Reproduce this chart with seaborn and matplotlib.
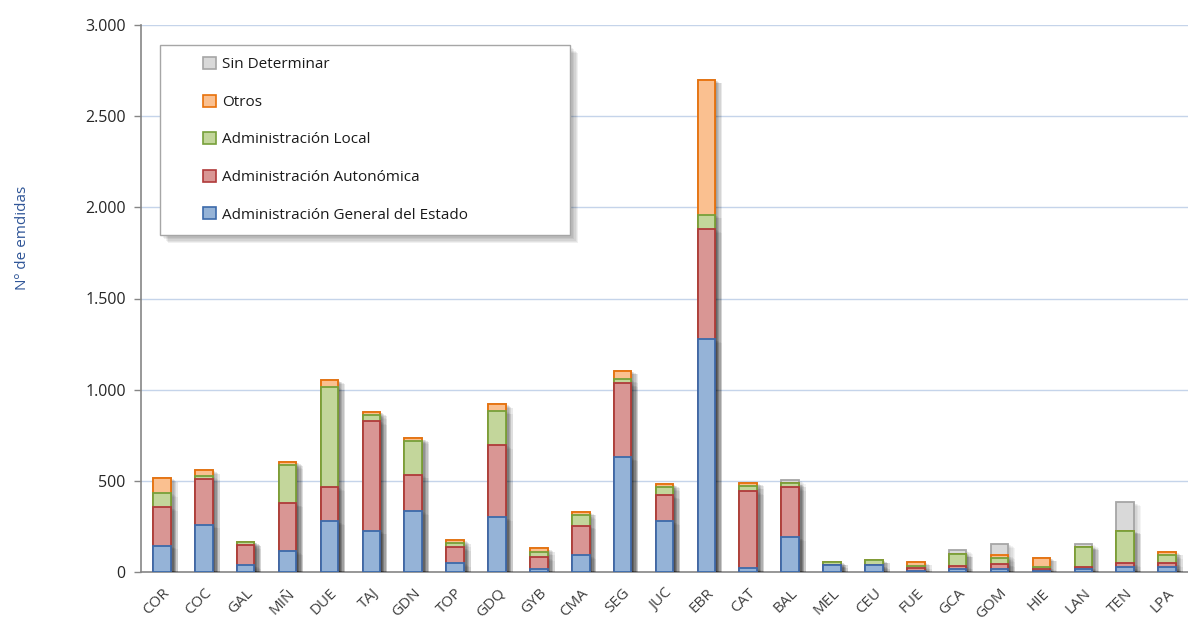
import numpy as np
import pandas as pd
import seaborn as sns
import matplotlib
matplotlib.use("Agg")
import matplotlib.pyplot as plt
from matplotlib.patches import Patch, Rectangle
import matplotlib.patheffects as pe
from matplotlib.ticker import FuncFormatter

categories = ["COR", "COC", "GAL", "MIÑ", "DUE", "TAJ", "GDN", "TOP", "GDQ", "GYB",
              "CMA", "SEG", "JUC", "EBR", "CAT", "BAL", "MEL", "CEU", "FUE", "GCA",
              "GOM", "HIE", "LAN", "TEN", "LPA"]
age   = [145, 258, 37, 115, 278, 225, 334, 49, 301, 15, 91, 628, 278, 1276, 24, 190, 40, 37, 7, 15, 15, 5, 16, 26, 26]
aa    = [210, 252, 109, 261, 188, 603, 198, 86, 395, 65, 163, 406, 142, 605, 420, 276, 0, 0, 15, 18, 31, 10, 10, 22, 22]
al    = [78, 16, 18, 209, 550, 32, 188, 22, 188, 31, 57, 22, 46, 77, 29, 20, 15, 29, 11, 67, 29, 11, 113, 179, 43]
otros = [82, 33, 0, 18, 36, 17, 14, 18, 37, 19, 18, 47, 16, 741, 17, 0, 0, 0, 22, 0, 16, 51, 0, 0, 19]
sd    = [0, 0, 0, 0, 0, 0, 0, 0, 0, 0, 0, 0, 0, 0, 0, 18, 0, 0, 0, 19, 62, 0, 14, 155, 0]

series_names = ["Administración General del Estado", "Administración Autonómica",
                "Administración Local", "Otros", "Sin Determinar"]
series_values = [age, aa, al, otros, sd]
fills = ["#95B3D7", "#D99694", "#C3D69B", "#FAC090", "#D9D9D9"]
edges = ["#3C6AAA", "#B03A3A", "#77A03A", "#E8710A", "#A6A6A6"]

sns.set_theme(style="white")
plt.rcParams["font.family"] = ["Open Sans", "DejaVu Sans"]

fig = plt.figure(figsize=(11.88, 6.25), dpi=100)
ax = fig.add_axes([141 / 1188, 1 - 572 / 625, 1 - 141 / 1188, (572 - 25) / 625])

df = pd.DataFrame({"cat": categories})
cum = np.cumsum(np.array(series_values, dtype=float), axis=0)
bar_shadow = [pe.SimplePatchShadow(offset=(k, -0.5 * k), shadow_rgbFace="#000000", alpha=0.045)
              for k in (1, 2, 3, 4, 5)] + [pe.Normal()]

for i in range(len(series_names) - 1, -1, -1):
    df["v"] = cum[i]
    sns.barplot(data=df, x="cat", y="v", order=categories, color=fills[i],
                edgecolor=edges[i], linewidth=1.3, width=0.42, saturation=1,
                ax=ax, zorder=3)

for p in ax.patches:
    p.set_path_effects(bar_shadow)

ax.set_xlim(-0.5, 24.28)
ax.set_ylim(0, 3000)
ax.set_yticks(np.arange(0, 3001, 500))
ax.yaxis.set_major_formatter(FuncFormatter(lambda v, _: f"{int(v):,}".replace(",", ".")))
ax.grid(axis="y", color="#C5D4EA", linewidth=1.0, zorder=0)
ax.set_axisbelow(True)

ax.set_xticks(range(len(categories)))
ax.set_xticklabels(categories, rotation=45, ha="right", rotation_mode="anchor")
ax.set_xticks(np.arange(-0.5, len(categories), 1), minor=True)
ax.tick_params(axis="x", which="major", length=0, pad=10, labelsize=11, labelcolor="#404040")
ax.tick_params(axis="x", which="minor", length=6, width=1, color="#868686", direction="out")
ax.tick_params(axis="y", which="major", length=5, width=1, color="#868686", direction="out",
               labelsize=11.5, labelcolor="#262626", pad=6, left=True)

for s in ["top", "right"]:
    ax.spines[s].set_visible(False)
for s in ["left", "bottom"]:
    ax.spines[s].set_color("#868686")
    ax.spines[s].set_linewidth(1.2)

ax.set_xlabel("")
ax.set_ylabel("Nº de emdidas", color="#2F5597", fontsize=11)
ax.yaxis.set_label_coords(-0.106, 0.61)

# legend box
box = Rectangle((160 / 1188, 1 - 235 / 625), 410 / 1188, 190 / 625, transform=fig.transFigure,
                facecolor="white", edgecolor="#A6A6A6", linewidth=1.0, zorder=5)
box.set_path_effects([pe.SimplePatchShadow(offset=(k, -k), shadow_rgbFace="#000000", alpha=0.06)
                      for k in (1, 2, 3, 4, 5, 6)] + [pe.Normal()])
fig.patches.append(box)

handles = [Patch(facecolor=fills[i], edgecolor=edges[i], linewidth=1.2, label=series_names[i])
           for i in range(len(series_names) - 1, -1, -1)]
leg = fig.legend(handles=handles, loc="upper left", bbox_to_anchor=(203 / 1188, 1 - 57 / 625),
                 frameon=False, fontsize=11, labelspacing=1.45, handlelength=0.85,
                 handleheight=0.85, handletextpad=0.4, borderpad=0, borderaxespad=0)
leg.set_zorder(6)
for t in leg.get_texts():
    t.set_color("#1A1A1A")

fig.savefig("out.png", dpi=100)
